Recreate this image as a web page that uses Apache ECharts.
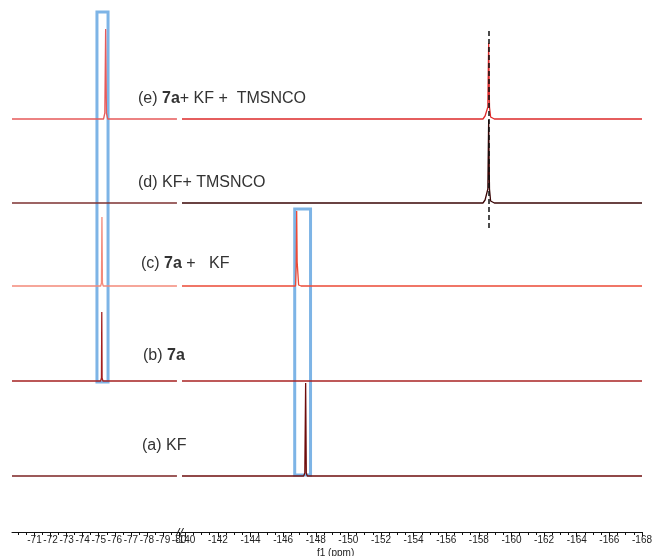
<!DOCTYPE html>
<html><head><meta charset="utf-8">
<script src="https://cdn.jsdelivr.net/npm/echarts@6/dist/echarts.min.js"></script>
<style>html,body{margin:0;padding:0;background:#fff}#c{width:655px;height:556px}</style>
</head><body><div id="c"></div>
<script>
// ---- data (ppm, intensity) ----
const leftRange = [-80.06, -69.6];
const rightRange = [-168, -139.8];
const leftTickLabels = [-71,-72,-73,-74,-75,-76,-77,-78,-79,-80];
const rightTickLabels = [-140,-142,-144,-146,-148,-150,-152,-154,-156,-158,-160,-162,-164,-166,-168];
const leftMinorTicks = [-70,-70.5,-71.5,-72.5,-73.5,-74.5,-75.5,-76.5,-77.5,-78.5,-79.5];
const rightMinorTicks = [-140.5,-141,-141.5,-142.5,-143,-143.5,-144.5,-145,-145.5,-146.5,-147,-147.5,-148.5,-149,-149.5,-150.5,-151,-151.5,-152.5,-153,-153.5,-154.5,-155,-155.5,-156.5,-157,-157.5,-158.5,-159,-159.5,-160.5,-161,-161.5,-162.5,-163,-163.5,-164.5,-165,-165.5,-166.5,-167,-167.5];

const traceNames = ['(a)','(b)','(c)','(d)','(e)'];
const traceOffsets = [56, 151, 246, 329, 413];

const aLeft  = [[-69.6,0],[-79.87,0]];
const aRight = [[-139.8,0],[-147.26,0],[-147.33,3],[-147.38,93],[-147.42,3],[-147.48,0],[-168,0]];
const bLeft  = [[-69.6,0],[-75.12,0],[-75.17,3],[-75.19,69],[-75.21,3],[-75.26,0],[-79.87,0]];
const bRight = [[-139.8,0],[-168,0]];
const cLeft  = [[-69.6,0],[-75.12,0],[-75.17,3],[-75.2,69],[-75.23,3],[-75.28,0],[-79.87,0]];
const cRight = [[-139.8,0],[-146.76,0],[-146.8,20],[-146.83,75],[-146.86,24],[-146.95,1],[-147.1,0],[-168,0]];
const dLeft  = [[-69.6,0],[-79.87,0]];
const dRight = [[-139.8,0],[-158.25,0],[-158.38,3],[-158.48,2],[-158.55,14],[-158.6,83],[-158.65,14],[-158.72,2],[-158.82,3],[-158.95,0],[-168,0]];
const eLeft  = [[-69.6,0],[-75.3,0],[-75.38,6],[-75.43,90],[-75.48,6],[-75.56,0],[-79.87,0]];
const eRight = [[-139.8,0],[-158.25,0],[-158.38,3],[-158.48,2],[-158.55,12],[-158.6,76],[-158.65,12],[-158.72,2],[-158.82,3],[-158.95,0],[-168,0]];

const leftColors  = ['#7b2222','#a52020','#f4897a','#7d3030','#e65a5a'];
const rightColors = ['#6e0c0c','#a82222','#ec4a36','#3a0606','#dd2a2a'];
const leftData  = [aLeft, bLeft, cLeft, dLeft, eLeft];
const rightData = [aRight, bRight, cRight, dRight, eRight];

// annotation regions (ppm / stacked intensity)
const box1 = [[-74.89, 520], [-75.58, 150]];
const box2 = [[-146.71, 323], [-147.68, 57]];
const dashX = -158.6;
const dashY = [304, 504];

const FONT = "'Liberation Sans', Arial, sans-serif";
const TICKFONT = "'Liberation Sans Narrow', 'Liberation Sans', Arial, sans-serif";
const LABEL_SIZE = 16;

const chart = echarts.init(document.getElementById('c'), null, {renderer:'canvas', width:655, height:556});

function mainAxis(grid, range, labels) {
  return {
    type:'value', gridIndex:grid, inverse:true, min:range[0], max:range[1], position:'bottom',
    axisLine:{show:true, onZero:false, lineStyle:{color:'#111', width:1}},
    axisTick:{show:true, length:5, customValues:labels, lineStyle:{color:'#111', width:1}},
    axisLabel:{show:true, customValues:labels, margin:3, fontSize:10, color:'#222', fontFamily:TICKFONT,
      formatter: v => String(v)},
    splitLine:{show:false}, minorTick:{show:false}
  };
}
function minorAxis(grid, range, ticks) {
  return {
    type:'value', gridIndex:grid, inverse:true, min:range[0], max:range[1], position:'bottom',
    axisLine:{show:false, onZero:false},
    axisTick:{show:true, length:3, customValues:ticks, lineStyle:{color:'#111', width:1}},
    axisLabel:{show:false}, splitLine:{show:false}
  };
}

const series = [];
for (let i = 0; i < 5; i++) {
  const off = traceOffsets[i];
  series.push({
    type:'line', name:traceNames[i]+'L', xAxisIndex:0, yAxisIndex:0, showSymbol:false, animation:false,
    lineStyle:{color:leftColors[i], width:1.3}, z:2,
    data:leftData[i].map(p => [p[0], p[1] + off])
  }, {
    type:'line', name:traceNames[i]+'R', xAxisIndex:2, yAxisIndex:1, showSymbol:false, animation:false,
    lineStyle:{color:rightColors[i], width:1.3}, z:2,
    data:rightData[i].map(p => [p[0], p[1] + off])
  });
}
// boxes and dashed guide
series.push({
  type:'line', xAxisIndex:0, yAxisIndex:0, data:[], z:5,
  markArea:{silent:true, itemStyle:{color:'rgba(0,0,0,0)', borderColor:'#7db4e6', borderWidth:3},
    data:[[{coord:box1[0]},{coord:box1[1]}]]}
});
series.push({
  type:'line', xAxisIndex:2, yAxisIndex:1, data:[], z:5,
  markArea:{silent:true, itemStyle:{color:'rgba(0,0,0,0)', borderColor:'#7db4e6', borderWidth:3},
    data:[[{coord:box2[0]},{coord:box2[1]}]]},
  markLine:{silent:true, symbol:'none', label:{show:false}, animation:false,
    lineStyle:{color:'#111', width:1.5, type:[5,3]},
    data:[[{coord:[dashX, dashY[0]]},{coord:[dashX, dashY[1]]}]]}
});

const rich = {
  n:{fontSize:LABEL_SIZE, fontFamily:FONT, fill:'#333'},
  b:{fontSize:LABEL_SIZE, fontFamily:FONT, fontWeight:'bold', fill:'#333'}
};

chart.setOption({
  animation:false,
  backgroundColor:'#fff',
  grid:[
    {left:12, width:168, top:10, height:522},
    {left:182, width:465, top:10, height:522}
  ],
  xAxis:[
    mainAxis(0, leftRange, leftTickLabels),
    minorAxis(0, leftRange, leftMinorTicks),
    mainAxis(1, rightRange, rightTickLabels),
    minorAxis(1, rightRange, rightMinorTicks)
  ],
  yAxis:[
    {type:'value', gridIndex:0, min:0, max:522, show:false},
    {type:'value', gridIndex:1, min:0, max:522, show:false}
  ],
  series: series,
  graphic:[
    {type:'text', left:138, top:91, style:{text:'{n|(e) }{b|7a}{n|+ KF +  TMSNCO}', rich:rich}},
    {type:'text', left:138, top:175, style:{text:'{n|(d) KF+ TMSNCO}', rich:rich}},
    {type:'text', left:141, top:256, style:{text:'{n|(c) }{b|7a}{n| +   KF}', rich:rich}},
    {type:'text', left:143, top:348, style:{text:'{n|(b) }{b|7a}', rich:rich}},
    {type:'text', left:142, top:438, style:{text:'{n|(a) KF}', rich:rich}},
    {type:'line', z:10, shape:{x1:176, y1:536, x2:180, y2:528}, style:{stroke:'#111', lineWidth:1}},
    {type:'line', z:10, shape:{x1:179.5, y1:536, x2:183.5, y2:528}, style:{stroke:'#111', lineWidth:1}},
    {type:'text', left:317, top:548, z:10, style:{text:'f1 (ppm)', fontSize:10, fontFamily:TICKFONT, fill:'#222'}}
  ]
});
</script></body></html>
